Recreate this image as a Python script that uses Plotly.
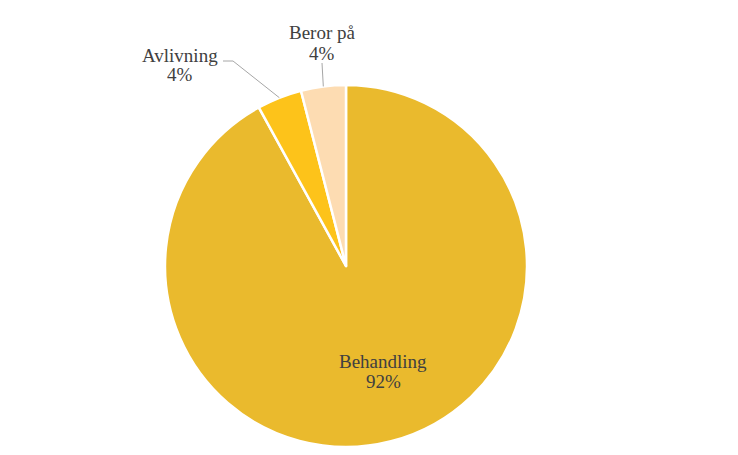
import math
import plotly.graph_objects as go

# Outcome shares (percent)
labels = ["Behandling", "Avlivning", "Beror på"]
values = [92, 4, 4]
colors = ["#EABA2D", "#FDC31A", "#FDDCB2"]

W, H = 738, 455
CX, CY, R = 346, 266, 181  # pie centre and radius in pixels

def px(x):
    return x / W

def py(y):
    return 1 - y / H

fig = go.Figure(
    go.Pie(
        labels=labels,
        values=values,
        sort=False,
        direction="clockwise",
        rotation=0,
        textinfo="none",
        hoverinfo="label+percent",
        marker=dict(colors=colors, line=dict(color="white", width=2.5)),
        domain=dict(x=[px(CX - R), px(CX + R)], y=[py(CY + R), py(CY - R)]),
        showlegend=False,
    )
)

total = sum(values)

def mid_point(i):
    """Pixel point on the rim at the middle of slice i."""
    start = sum(values[:i]) / total
    frac = start + values[i] / total / 2
    ang = 2 * math.pi * frac  # clockwise from 12 o'clock
    return CX + R * math.sin(ang), CY - R * math.cos(ang)

def pct(i):
    return f"{round(100 * values[i] / total)}%"

font = dict(family="Liberation Serif", size=19, color="#404040")

# label anchor (centre x, first-line centre y) in pixels
label_pos = {0: (383, 361), 1: (180, 55), 2: (322, 33)}
line_gap = 20

annotations = []
for i, (lx, ly) in label_pos.items():
    annotations.append(dict(x=px(lx), y=py(ly), xref="paper", yref="paper",
                            text=labels[i], showarrow=False, font=font,
                            xanchor="center", yanchor="middle"))
    annotations.append(dict(x=px(lx), y=py(ly + line_gap), xref="paper", yref="paper",
                            text=pct(i), showarrow=False, font=font,
                            xanchor="center", yanchor="middle"))

# leader lines for the two small slices
shapes = []
ax, ay = mid_point(1)
shapes.append(dict(type="path", xref="paper", yref="paper",
                   path=f"M {px(223)} {py(61)} L {px(233)} {py(61)} L {px(ax)} {py(ay)}",
                   line=dict(color="#A6A6A6", width=1)))
bx, by = mid_point(2)
shapes.append(dict(type="line", xref="paper", yref="paper",
                   x0=px(322), y0=py(63), x1=px(bx), y1=py(by),
                   line=dict(color="#A6A6A6", width=1)))

fig.update_layout(
    width=W, height=H,
    margin=dict(l=0, r=0, t=0, b=0),
    paper_bgcolor="white", plot_bgcolor="white",
    annotations=annotations,
    shapes=shapes,
)

fig.write_html("out.html")
